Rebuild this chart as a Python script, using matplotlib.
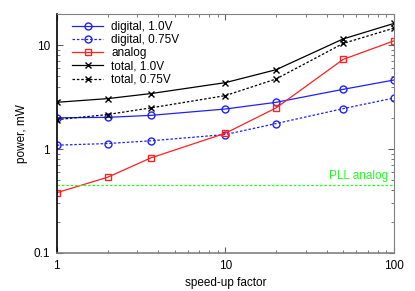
import matplotlib
matplotlib.use('Agg')
import matplotlib.pyplot as plt

plt.rcParams['font.family'] = ['Liberation Sans', 'DejaVu Sans']
plt.rcParams['font.size'] = 8.5

# data
speedup = [1, 2, 3.6, 10, 20, 50, 100]
digital_10 = [2.0, 2.02, 2.11, 2.43, 2.82, 3.76, 4.62]
digital_075 = [1.09, 1.13, 1.2, 1.38, 1.76, 2.45, 3.1]
analog = [0.38, 0.535, 0.82, 1.42, 2.49, 7.3, 11.0]
total_10 = [2.82, 3.06, 3.42, 4.36, 5.81, 11.5, 16.2]
total_075 = [1.92, 2.15, 2.49, 3.27, 4.73, 10.4, 14.6]
pll_analog = 0.453

fig = plt.figure(figsize=(4.15, 2.91), dpi=100)
ax = fig.add_axes([0.137, 0.131, 0.812, 0.821])

ax.plot(speedup, digital_10, '-', color='#2020ff', marker='o', mfc='none', ms=5, lw=0.9, label='digital, 1.0V')
ax.plot(speedup, digital_075, '--', color='#2020ff', marker='o', mfc='none', ms=5, lw=0.9, dashes=(2, 1.5), label='digital, 0.75V')
ax.plot(speedup, analog, '-', color='#ff2020', marker='s', mfc='none', ms=5, lw=0.9, label='analog')
ax.plot(speedup, total_10, '-', color='black', marker='x', ms=5, lw=0.9, label='total, 1.0V')
ax.plot(speedup, total_075, '--', color='black', marker='x', ms=5, lw=0.9, dashes=(2, 1.5), label='total, 0.75V')
ax.axhline(pll_analog, color='#20ff20', lw=0.9, ls=(0, (2, 1.5)))
ax.text(92, pll_analog * 1.06, 'PLL analog', color='#20ff20', ha='right', va='bottom')

ax.set_xscale('log')
ax.set_yscale('log')
ax.set_xlim(1, 100)
ax.set_ylim(0.1, 20)
ax.set_xticks([1, 10, 100])
ax.set_xticklabels(['1', '10', '100'])
ax.set_yticks([0.1, 1, 10])
ax.set_yticklabels(['0.1', '1', '10'])
ax.tick_params(which='both', direction='in', top=True, right=True, color='#606060')
ax.tick_params(which='major', length=4, pad=5)
ax.tick_params(which='minor', length=2)
for s in ax.spines.values():
    s.set_color('#808080')
ax.spines['left'].set_color('black')
ax.spines['left'].set_linewidth(1.2)
ax.spines['bottom'].set_linewidth(1.2)

ax.set_xlabel('speed-up factor', labelpad=4)
ax.set_ylabel('power, mW', labelpad=4)

ax.legend(loc='upper left', frameon=False, handlelength=2.6, borderaxespad=0.2,
          labelspacing=0.1, handletextpad=0.7, bbox_to_anchor=(0.025, 1.0))

fig.savefig('out.png', dpi=100)
